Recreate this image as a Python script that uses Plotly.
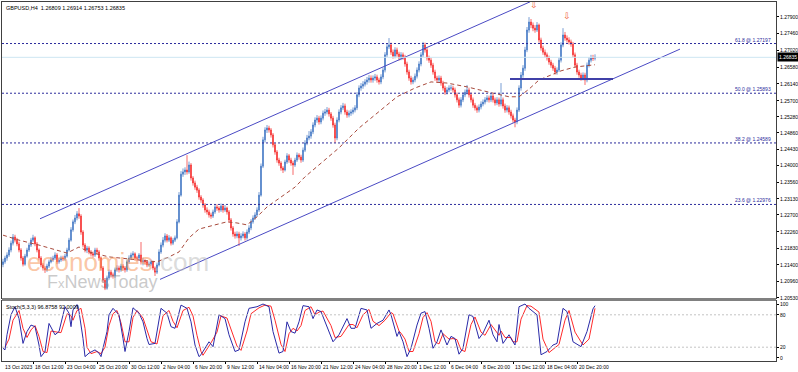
import plotly.graph_objects as go

# ---------------- DATA (GBPUSD H4) ----------------
first_open = 1.2140
closes = [
    1.2147,1.2157,1.2165,1.2178,1.2196,1.2212,1.2204,1.2194,1.2178,1.2157,
    1.2141,1.2162,1.2178,1.2191,1.2204,1.2210,1.2194,1.2178,1.2157,1.2139,
    1.2131,1.2126,1.2136,1.2147,1.2152,1.2157,1.2165,1.2147,1.2152,1.2157,
    1.2155,1.2162,1.2178,1.2204,1.2231,1.2252,1.2262,1.2273,1.2267,1.2225,
    1.2191,1.2178,1.2183,1.2173,1.2168,1.2165,1.2178,1.2173,1.2157,1.2131,
    1.2099,1.2078,1.2105,1.2120,1.2113,1.2110,1.2126,1.2131,1.2126,1.2136,
    1.2131,1.2126,1.2147,1.2157,1.2165,1.2168,1.2157,1.2157,1.2165,1.2147,
    1.2150,1.2147,1.2139,1.2141,
    1.2147,1.2131,1.2120,1.2139,1.2173,1.2191,1.2204,1.2215,1.2204,1.2210,
    1.2196,1.2204,1.2210,1.2252,1.2322,1.2377,1.2383,1.2388,1.2383,1.2401,
    1.2367,1.2354,1.2343,1.2335,1.2317,1.2309,1.2296,1.2283,1.2278,1.2270,
    1.2267,1.2278,1.2291,1.2288,1.2283,1.2293,1.2283,1.2288,1.2278,1.2257,
    1.2236,1.2220,1.2215,1.2220,1.2210,1.2215,1.2220,1.2210,1.2225,1.2236,
    1.2252,1.2262,1.2270,1.2283,1.2322,1.2398,1.2467,1.2493,1.2498,1.2493,
    1.2480,1.2454,1.2435,1.2414,1.2406,1.2393,1.2388,1.2409,1.2425,1.2414,
    1.2406,1.2401,1.2414,1.2427,1.2422,
    1.2414,1.2440,1.2459,1.2472,1.2477,1.2488,1.2506,1.2519,1.2524,1.2514,
    1.2524,1.2537,1.2540,1.2545,1.2535,1.2524,1.2506,1.2472,1.2519,1.2540,
    1.2551,1.2556,1.2540,1.2532,1.2537,1.2540,1.2545,1.2551,1.2585,1.2603,
    1.2608,1.2613,1.2619,1.2624,1.2629,1.2624,1.2629,1.2632,1.2624,1.2619,
    1.2632,1.2650,1.2690,1.2711,1.2716,1.2697,1.2687,1.2703,1.2692,1.2682,
    1.2690,1.2684,1.2666,1.2645,1.2629,1.2619,1.2624,1.2634,1.2650,1.2666,
    1.2690,1.2716,1.2703,1.2682,1.2676,1.2663,1.2645,1.2629,1.2624,1.2629,
    1.2616,1.2603,1.2592,1.2598,1.2603,
    1.2603,1.2598,1.2585,1.2572,1.2558,1.2572,1.2585,1.2592,1.2598,1.2585,
    1.2572,1.2558,1.2551,1.2545,1.2553,1.2561,1.2566,1.2572,1.2577,1.2572,
    1.2582,1.2572,1.2564,1.2572,1.2561,1.2572,1.2556,1.2545,1.2551,1.2540,
    1.2530,1.2519,1.2514,1.2545,1.2603,1.2637,1.2655,1.2703,1.2755,1.2776,
    1.2768,1.2760,1.2755,1.2768,1.2729,1.2708,1.2697,1.2690,1.2682,1.2671,
    1.2663,1.2655,1.2645,1.2650,1.2676,1.2716,1.2742,1.2734,1.2729,1.2724,
    1.2718,1.2690,1.2663,1.2645,1.2637,1.2629,1.2637,1.2624,1.2663,1.2676,
    1.2682,1.26809,1.26835,
]
highs = [
    1.2155,1.2163,1.2172,1.2185,1.2203,1.2220,1.2218,1.2210,1.2200,1.2183,
    1.2162,1.2168,1.2184,1.2197,1.2210,1.2218,1.2214,1.2199,1.2182,1.2162,
    1.2144,1.2136,1.2142,1.2153,1.2160,1.2163,1.2172,1.2170,1.2158,1.2163,
    1.2163,1.2168,1.2184,1.2210,1.2238,1.2258,1.2270,1.2280,1.2288,1.2272,
    1.2230,1.2196,1.2189,1.2188,1.2178,1.2174,1.2184,1.2184,1.2178,1.2161,
    1.2136,1.2104,1.2111,1.2127,1.2126,1.2119,1.2132,1.2138,1.2137,1.2142,
    1.2141,1.2136,1.2153,1.2164,1.2171,1.2175,1.2172,1.2163,1.2170,1.2199,
    1.2158,1.2154,1.2151,1.2148,
    1.2153,1.2150,1.2135,1.2145,1.2180,1.2198,1.2212,1.2222,1.2220,1.2217,
    1.2214,1.2210,1.2216,1.2259,1.2330,1.2385,1.2392,1.2395,1.2427,1.2410,
    1.2406,1.2372,1.2360,1.2349,1.2340,1.2322,1.2314,1.2301,1.2290,1.2284,
    1.2276,1.2284,1.2297,1.2298,1.2293,1.2300,1.2298,1.2296,1.2292,1.2283,
    1.2262,1.2241,1.2226,1.2227,1.2226,1.2222,1.2227,1.2225,1.2232,1.2243,
    1.2259,1.2269,1.2277,1.2290,1.2330,1.2405,1.2475,1.2500,1.2506,1.2504,
    1.2498,1.2485,1.2459,1.2440,1.2420,1.2411,1.2398,1.2415,1.2432,1.2430,
    1.2420,1.2412,1.2420,1.2434,1.2432,
    1.2428,1.2447,1.2466,1.2480,1.2490,1.2495,1.2513,1.2526,1.2532,1.2530,
    1.2531,1.2544,1.2548,1.2553,1.2551,1.2540,1.2530,1.2512,1.2526,1.2547,
    1.2558,1.2564,1.2562,1.2546,1.2544,1.2547,1.2552,1.2558,1.2592,1.2610,
    1.2616,1.2621,1.2626,1.2632,1.2637,1.2636,1.2636,1.2640,1.2638,1.2630,
    1.2639,1.2657,1.2697,1.2719,1.2734,1.2722,1.2704,1.2710,1.2709,1.2698,
    1.2697,1.2696,1.2690,1.2672,1.2651,1.2635,1.2631,1.2641,1.2657,1.2673,
    1.2697,1.2724,1.2722,1.2709,1.2688,1.2682,1.2669,1.2651,1.2635,1.2636,
    1.2635,1.2622,1.2609,1.2605,1.2610,
    1.2611,1.2609,1.2604,1.2591,1.2578,1.2579,1.2592,1.2599,1.2611,1.2604,
    1.2591,1.2578,1.2564,1.2557,1.2560,1.2568,1.2573,1.2579,1.2584,1.2583,
    1.2589,1.2588,1.2578,1.2579,1.2578,1.2616,1.2578,1.2562,1.2558,1.2557,
    1.2546,1.2536,1.2525,1.2552,1.2610,1.2645,1.2663,1.2711,1.2763,1.2789,
    1.2784,1.2775,1.2768,1.2776,1.2772,1.2735,1.2714,1.2704,1.2696,1.2688,
    1.2677,1.2669,1.2661,1.2657,1.2683,1.2723,1.2760,1.2750,1.2741,1.2736,
    1.2730,1.2724,1.2696,1.2669,1.2651,1.2643,1.2644,1.2643,1.2670,1.2684,
    1.2690,1.2690,1.26914,
]
lows = [
    1.2133,1.2142,1.2150,1.2160,1.2172,1.2190,1.2198,1.2188,1.2172,1.2150,
    1.2135,1.2137,1.2158,1.2173,1.2186,1.2199,1.2188,1.2172,1.2151,1.2133,
    1.2124,1.2118,1.2121,1.2131,1.2143,1.2147,1.2152,1.2141,1.2142,1.2147,
    1.2149,1.2150,1.2158,1.2174,1.2200,1.2226,1.2246,1.2256,1.2260,1.2218,
    1.2185,1.2172,1.2170,1.2167,1.2161,1.2158,1.2160,1.2166,1.2150,1.2125,
    1.2092,1.2073,1.2074,1.2100,1.2106,1.2103,1.2105,1.2121,1.2119,1.2121,
    1.2124,1.2119,1.2121,1.2142,1.2152,1.2160,1.2150,1.2150,1.2150,1.2140,
    1.2138,1.2140,1.2133,1.2134,
    1.2136,1.2125,1.2110,1.2115,1.2135,1.2168,1.2185,1.2198,1.2198,1.2199,
    1.2190,1.2191,1.2199,1.2206,1.2248,1.2318,1.2370,1.2375,1.2376,1.2378,
    1.2360,1.2347,1.2336,1.2328,1.2310,1.2302,1.2289,1.2276,1.2271,1.2263,
    1.2260,1.2262,1.2273,1.2281,1.2276,1.2278,1.2276,1.2278,1.2271,1.2250,
    1.2229,1.2213,1.2208,1.2209,1.2189,1.2203,1.2209,1.2203,1.2205,1.2220,
    1.2230,1.2247,1.2257,1.2265,1.2278,1.2318,1.2393,1.2460,1.2485,1.2486,
    1.2473,1.2447,1.2428,1.2407,1.2399,1.2386,1.2380,1.2384,1.2404,1.2407,
    1.2399,1.2375,1.2396,1.2409,1.2415,
    1.2407,1.2409,1.2435,1.2453,1.2466,1.2470,1.2482,1.2500,1.2512,1.2507,
    1.2508,1.2518,1.2530,1.2534,1.2528,1.2517,1.2499,1.2459,1.2466,1.2513,
    1.2534,1.2545,1.2533,1.2525,1.2526,1.2530,1.2534,1.2539,1.2545,1.2579,
    1.2596,1.2601,1.2607,1.2612,1.2617,1.2617,1.2617,1.2622,1.2617,1.2612,
    1.2613,1.2626,1.2644,1.2684,1.2705,1.2690,1.2680,1.2681,1.2685,1.2675,
    1.2676,1.2677,1.2659,1.2638,1.2622,1.2612,1.2613,1.2618,1.2628,1.2644,
    1.2660,1.2684,1.2696,1.2675,1.2669,1.2656,1.2638,1.2622,1.2617,1.2618,
    1.2609,1.2596,1.2585,1.2586,1.2592,
    1.2596,1.2591,1.2578,1.2565,1.2551,1.2552,1.2566,1.2579,1.2586,1.2578,
    1.2565,1.2551,1.2544,1.2538,1.2539,1.2547,1.2555,1.2560,1.2566,1.2565,
    1.2566,1.2565,1.2557,1.2558,1.2554,1.2555,1.2549,1.2538,1.2539,1.2533,
    1.2523,1.2512,1.2500,1.2508,1.2540,1.2596,1.2630,1.2648,1.2697,1.2748,
    1.2760,1.2752,1.2748,1.2750,1.2722,1.2701,1.2690,1.2683,1.2675,1.2664,
    1.2656,1.2648,1.2638,1.2638,1.2645,1.2670,1.2710,1.2727,1.2722,1.2717,
    1.2711,1.2683,1.2656,1.2638,1.2630,1.2622,1.2623,1.2611,1.2618,1.2657,
    1.2670,1.2674,1.26753,
]
opens = [first_open] + closes[:-1]

# moving average (dashed), sampled along the bars
ma_bar = [0, 8, 18, 27, 32, 38, 43, 53, 67, 77, 83, 88, 93, 98, 106, 112, 117, 122,
          127, 132, 139, 146, 151, 158, 168, 178, 189, 197, 206, 214, 222, 232, 243,
          253, 258, 263, 268, 273, 279, 286, 294, 296]
ma_val = [1.2217, 1.2204, 1.2191, 1.2178, 1.2170, 1.2186, 1.2173, 1.2160, 1.2152, 1.2147,
          1.2160, 1.2173, 1.2210, 1.2233, 1.2244, 1.2252, 1.2249, 1.2244, 1.2265, 1.2291,
          1.2317, 1.2343, 1.2370, 1.2401, 1.2446, 1.2498, 1.2545, 1.2580, 1.2603, 1.2619,
          1.2616, 1.2606, 1.2592, 1.2580, 1.2580, 1.2600, 1.2624, 1.2634, 1.2648, 1.2658,
          1.2663, 1.2664]

# Stochastic (5,3,3)
k_bar = [0,1,2,4,6,8,10,12,14,16,18,19,21,23,26,28,31,33,34,35,37,38,40,41,43,46,48,49,52,53,
         55,58,60,61,63,65,68,70,72,73,76,79,82,84,86,89,92,94,96,98,99,102,103,105,108,111,113,
         116,118,121,123,127,130,133,135,138,140,142,144,146,148,150,153,155,157,159,163,165,168,
         172,174,176,179,182,184,187,190,193,194,197,198,200,202,204,207,209,211,213,215,217,219,
         222,224,226,228,230,233,235,238,240,243,245,247,248,250,253,254,256,258,261,263,267,269,
         272,275,277,280,282,285,289,292,294,295,296]
k_val = [18,15,43,80,95,73,27,49,61,58,24,2.5,12,64,43,49,95,83,58,89,99,86,36,2.5,9,15,9,2.5,49,80,
         92,80,36,12,49,93,83,67,36,25,27,92,83,58,55,98,92,67,24,2.5,6,24,30,21,80,73,43,
         12,15,67,92,95,100,95,49,9,12,67,49,46,67,97,95,73,89,86,49,30,43,
         73,55,55,92,89,55,64,70,89,80,40,49,30,2.5,18,61,83,86,55,18,30,52,
         24,40,36,7,18,80,77,36,46,70,43,30,62,27,43,36,24,95,100,92,80,6,
         12,24,27,92,86,30,21,49,80,91,96.8758]
d_bar = [1,3,5,8,10,12,14,16,18,20,22,24,27,29,32,34,35,37,39,41,42,44,47,49,51,53,55,57,59,61,
         63,65,67,70,72,74,77,80,83,85,87,90,93,95,97,99,100,103,104,107,109,112,114,117,119,122,
         124,128,131,134,136,139,141,143,145,147,149,151,154,156,158,160,164,166,169,173,175,177,
         180,183,185,188,191,194,195,198,199,201,203,205,208,210,212,214,216,218,220,223,225,227,
         229,231,234,236,239,241,244,246,248,249,251,254,255,257,259,262,264,268,270,273,276,278,
         281,283,286,290,293,295,296]
d_val = [20,35,70,88,55,38,52,60,40,12,10,50,48,47,82,78,70,88,92,55,20,8,12,8,20,60,82,88,65,30,
         30,75,88,74,52,30,26,78,88,68,56,88,94,78,42,12,5,22,28,48,78,74,52,22,14,50,
         82,93,98,96,70,25,12,45,55,50,60,88,95,80,85,87,60,38,40,62,62,56,
         80,90,68,60,70,84,82,50,46,35,12,12,45,75,84,68,30,26,45,35,36,34,
         15,12,62,76,48,42,62,52,42,50,38,38,30,30,72,97,96,85,35,10,20,25,
         70,88,48,24,35,70,92.0009]

# Fibonacci levels
fib_names = ["61.8", "50.0", "38.2", "23.6"]
fib_levels = [1.27197, 1.25893, 1.24589, 1.22976]

# channel / support drawing objects (bar index, price)
chan_upper_bar = [18.5, 263.5]
chan_upper_px = [1.2260, 1.2829]
chan_lower_bar = [78.5, 338.5]
chan_lower_px = [1.2101, 1.2705]
support_bar = [253.5, 305]
support_px = [1.26266, 1.26266]
arrow_bar = [265.5, 282]
arrow_px = [1.2818, 1.2789]

last_price = 1.26835

y_ticks = [1.27900, 1.27460, 1.27020, 1.26580, 1.26140, 1.25700, 1.25280, 1.24860,
           1.24430, 1.24000, 1.23560, 1.23130, 1.22700, 1.22260, 1.21830, 1.21400,
           1.20960, 1.20530]
stoch_ticks = [100, 80, 20, 0]
x_label_bars = [15, 31, 47, 63, 79, 95, 111, 127, 143, 159, 175, 191, 207, 223, 239, 255, 271, 287]
x_label_text = ["18 Oct 12:00", "23 Oct 04:00", "25 Oct 20:00", "30 Oct 12:00", "2 Nov 04:00",
                "6 Nov 20:00", "9 Nov 12:00", "14 Nov 04:00", "16 Nov 20:00", "21 Nov 12:00",
                "24 Nov 04:00", "28 Nov 20:00", "1 Dec 12:00", "6 Dec 04:00", "8 Dec 20:00",
                "13 Dec 12:00", "18 Dec 04:00", "20 Dec 20:00"]

# ---------------- FIGURE ----------------
n = len(closes)
assert len(highs) == n and len(lows) == n
bars = list(range(n))
hi = [max(h, o, c) for h, o, c in zip(highs, opens, closes)]
lo = [min(l, o, c) for l, o, c in zip(lows, opens, closes)]

FONT = "Liberation Sans"
BLUE = "#4a4ac4"
FIBC = "#2b2b9c"

fig = go.Figure()
fig.add_trace(go.Candlestick(
    x=bars, open=opens, high=hi, low=lo, close=closes,
    increasing=dict(line=dict(color="#3d72c2", width=0.7), fillcolor="#7aa4da"),
    decreasing=dict(line=dict(color="#f42a2a", width=0.7), fillcolor="#ff5555"),
    whiskerwidth=0, xaxis="x", yaxis="y", showlegend=False, hoverinfo="skip"))
fig.add_trace(go.Scatter(x=ma_bar, y=ma_val, mode="lines",
                         line=dict(color="#a84a3c", width=1, dash="4px,3px"),
                         xaxis="x", yaxis="y", showlegend=False, hoverinfo="skip"))
fig.add_trace(go.Scatter(x=chan_upper_bar, y=chan_upper_px, mode="lines",
                         line=dict(color=BLUE, width=1), xaxis="x", yaxis="y", showlegend=False))
fig.add_trace(go.Scatter(x=chan_lower_bar, y=chan_lower_px, mode="lines",
                         line=dict(color=BLUE, width=1), xaxis="x", yaxis="y", showlegend=False))
fig.add_trace(go.Scatter(x=support_bar, y=support_px, mode="lines",
                         line=dict(color="#4040a8", width=2.2), xaxis="x", yaxis="y", showlegend=False))
fig.add_trace(go.Scatter(x=arrow_bar, y=arrow_px, mode="text", text=["⇩", "⇩"],
                         textfont=dict(family="DejaVu Sans", size=9, color="#f0603c"),
                         xaxis="x", yaxis="y", showlegend=False))
fig.add_trace(go.Scatter(x=d_bar, y=d_val, mode="lines", line=dict(color="#ff2a2a", width=1),
                         xaxis="x2", yaxis="y2", showlegend=False))
fig.add_trace(go.Scatter(x=k_bar, y=k_val, mode="lines", line=dict(color="#2a2aa8", width=1),
                         xaxis="x2", yaxis="y2", showlegend=False))

W, H = 798, 372
ml, mr, mt, mb = 2, 22, 2, 11
plot_h = H - mt - mb
main_bottom = (H - mb - 298) / plot_h
stoch_top = (H - mb - 301) / plot_h

xr = [-0.5, -0.5 + (W - ml - mr) / 2.0]
shapes = []
for lv in fib_levels:
    shapes.append(dict(type="line", xref="paper", yref="y", x0=0, x1=1, y0=lv, y1=lv,
                       line=dict(color=FIBC, width=1, dash="2px,2px")))
shapes.append(dict(type="line", xref="paper", yref="y", x0=0, x1=1, y0=last_price, y1=last_price,
                   line=dict(color="#cde6f2", width=1)))
for lv in [80, 20]:
    shapes.append(dict(type="line", xref="paper", yref="y2", x0=0, x1=1, y0=lv, y1=lv,
                       line=dict(color="#c4c4c4", width=1, dash="2px,2px")))
shapes.append(dict(type="rect", xref="paper", yref="paper", x0=0, x1=1,
                   y0=stoch_top, y1=main_bottom, fillcolor="#808080", line=dict(width=0), layer="above"))

TICKF = dict(family=FONT, size=5, color="#000000")
ann = []
ann.append(dict(text="GBPUSD,H4  1.26809 1.26914 1.26753 1.26835", xref="paper", yref="paper",
                x=0, y=1, xanchor="left", yanchor="top", xshift=2, yshift=-1, showarrow=False,
                font=dict(family=FONT, size=5.5, color="#000000")))
ann.append(dict(text="Stoch(5,3,3) 96.8758 92.0009", xref="paper", yref="paper",
                x=0, y=stoch_top, xanchor="left", yanchor="top", xshift=2, yshift=-1, showarrow=False,
                font=dict(family=FONT, size=5.5, color="#000000")))
ann.append(dict(text="13 Oct 2023", xref="x2", yref="paper", x=0, y=0, xanchor="left",
                yanchor="top", yshift=-1, showarrow=False, font=TICKF))
for b, t in zip(x_label_bars, x_label_text):
    ann.append(dict(text=t, xref="x2", yref="paper", x=b, y=0, xanchor="left", yanchor="top",
                    xshift=0, yshift=-1, showarrow=False, font=TICKF))
for v in y_ticks:
    ann.append(dict(text=f"{v:.5f}", xref="paper", yref="y", x=1, y=v, xanchor="left",
                    yanchor="middle", xshift=2, showarrow=False, font=TICKF))
for v in stoch_ticks:
    ann.append(dict(text=str(v), xref="paper", yref="y2", x=1, y=v, xanchor="left",
                    yanchor="middle", xshift=2, showarrow=False, font=TICKF))
for nm, lv in zip(fib_names, fib_levels):
    ann.append(dict(text=f"{nm} @ {lv:.5f}", xref="paper", yref="y", x=1, y=lv, xanchor="right",
                    yanchor="bottom", xshift=-3, yshift=-1, showarrow=False,
                    font=dict(family=FONT, size=5, color=FIBC)))
ann.append(dict(text=f"{last_price:.5f}", xref="paper", yref="y", x=1, y=last_price, xanchor="left",
                yanchor="middle", xshift=1, showarrow=False, bgcolor="#000000", borderpad=1,
                font=dict(family=FONT, size=5, color="#ffffff")))
ann.append(dict(text="<span style='color:rgba(247,150,90,0.55)'>economies</span>"
                     "<span style='color:rgba(190,190,190,0.55)'>.com</span>",
                xref="paper", yref="paper", x=23 / 774, y=(H - mb - 262) / plot_h,
                xanchor="left", yanchor="middle", showarrow=False,
                font=dict(family=FONT, size=26)))
ann.append(dict(text="F<span style='font-size:13px'>x</span>NewsToday", xref="paper", yref="paper",
                x=43 / 774, y=(H - mb - 282) / plot_h, xanchor="left", yanchor="middle",
                showarrow=False, font=dict(family=FONT, size=18, color="rgba(150,150,150,0.5)")))

fig.update_layout(
    width=W, height=H, margin=dict(l=ml, r=mr, t=mt, b=mb),
    paper_bgcolor="#ffffff", plot_bgcolor="#ffffff", showlegend=False,
    shapes=shapes, annotations=ann,
    xaxis=dict(domain=[0, 1], range=xr, anchor="y", showticklabels=False, showgrid=False,
               zeroline=False, showline=True, linecolor="#404040", mirror=True, ticks="",
               rangeslider=dict(visible=False), fixedrange=True),
    yaxis=dict(domain=[main_bottom, 1], range=[1.20522, 1.28286], anchor="x", side="right",
               tickvals=y_ticks, showticklabels=False, ticks="outside",
               ticklen=2, tickcolor="#000", showgrid=False, zeroline=False, showline=True,
               linecolor="#404040", mirror=True),
    xaxis2=dict(domain=[0, 1], range=xr, anchor="y2", tickvals=x_label_bars, ticks="outside",
                ticklen=2, tickcolor="#000", showticklabels=False, showgrid=False, zeroline=False,
                showline=True, linecolor="#404040", mirror=True),
    yaxis2=dict(domain=[0, stoch_top], range=[-5.6, 105.6], anchor="x2", side="right",
                tickvals=stoch_ticks, showticklabels=False, ticks="outside",
                ticklen=2, tickcolor="#000", showgrid=False, zeroline=False, showline=True,
                linecolor="#404040", mirror=True),
)

fig.write_html("out.html", config={"displayModeBar": False},
               post_script="document.body.style.margin='0px';"
                           "document.body.style.overflow='hidden';")
